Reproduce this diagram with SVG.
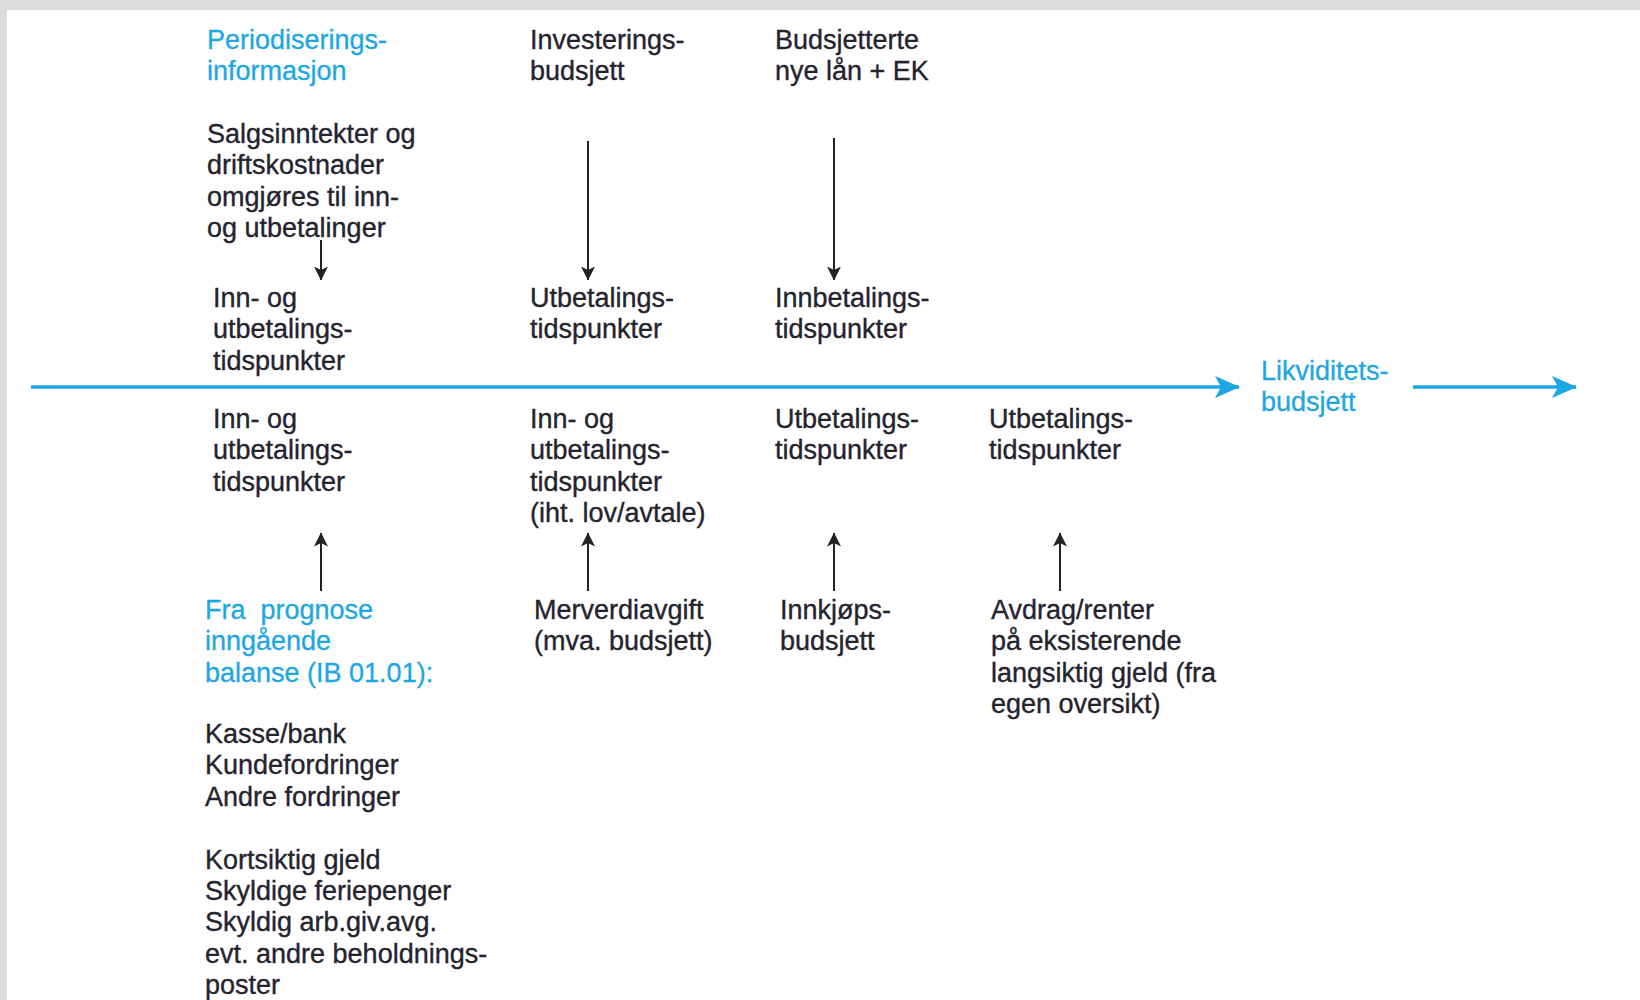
<svg xmlns="http://www.w3.org/2000/svg" width="1640" height="1000" viewBox="0 0 1640 1000">
<defs>
<style>
.t{font-family:"Liberation Sans",Arial,sans-serif;font-size:27px;fill:#25232e;stroke:#25232e;stroke-width:0.35}
.b{font-family:"Liberation Sans",Arial,sans-serif;font-size:27px;fill:#1ca7e4;stroke:#1ca7e4;stroke-width:0.3}
.k{stroke:#222;stroke-width:2;fill:none}
.bl{stroke:#1ca7e4;stroke-width:3.5;fill:none}
</style>
<marker id="ah" viewBox="0 0 14 16" refX="13.5" refY="8" markerWidth="14" markerHeight="16" markerUnits="userSpaceOnUse" orient="auto">
<path d="M0,1 L14,8 L0,15 L3.5,8 z" fill="#222"/>
</marker>
<marker id="bh" viewBox="0 0 25 22" refX="24" refY="11" markerWidth="25" markerHeight="22" markerUnits="userSpaceOnUse" orient="auto">
<path d="M0,0 L25,11 L0,22 L6,11 z" fill="#1ca7e4"/>
</marker>
</defs>
<rect x="0" y="0" width="1640" height="1000" fill="#dcdcdc"/>
<rect x="7" y="10" width="1633" height="990" fill="#ffffff"/>

<g id="connectors">
<line class="bl" x1="31" y1="387" x2="1239" y2="387" marker-end="url(#bh)"/>
<line class="bl" x1="1413" y1="387" x2="1576" y2="387" marker-end="url(#bh)"/>
<line class="k" x1="321" y1="240" x2="321" y2="280" marker-end="url(#ah)"/>
<line class="k" x1="588" y1="141" x2="588" y2="280" marker-end="url(#ah)"/>
<line class="k" x1="834" y1="138" x2="834" y2="280" marker-end="url(#ah)"/>
<line class="k" x1="321" y1="591" x2="321" y2="533" marker-end="url(#ah)"/>
<line class="k" x1="588" y1="591" x2="588" y2="533" marker-end="url(#ah)"/>
<line class="k" x1="834" y1="591" x2="834" y2="533" marker-end="url(#ah)"/>
<line class="k" x1="1060" y1="591" x2="1060" y2="533" marker-end="url(#ah)"/>
</g>

<g id="periodisering">
<text class="b" x="207" y="49">Periodiserings-</text>
<text class="b" x="207" y="80">informasjon</text>
</g>
<g id="investeringsbudsjett">
<text class="t" x="530" y="49">Investerings-</text>
<text class="t" x="530" y="80">budsjett</text>
</g>
<g id="nye-laan">
<text class="t" x="775" y="49">Budsjetterte</text>
<text class="t" x="775" y="80">nye lån + EK</text>
</g>
<g id="salgsinntekter">
<text class="t" x="207" y="143">Salgsinntekter og</text>
<text class="t" x="207" y="174.4">driftskostnader</text>
<text class="t" x="207" y="205.8">omgjøres til inn-</text>
<text class="t" x="207" y="237.2">og utbetalinger</text>
</g>
<g id="inn-ut-top">
<text class="t" x="213" y="307">Inn- og</text>
<text class="t" x="213" y="338.4">utbetalings-</text>
<text class="t" x="213" y="369.8">tidspunkter</text>
</g>
<g id="utbetaling-top">
<text class="t" x="530" y="307">Utbetalings-</text>
<text class="t" x="530" y="338.4">tidspunkter</text>
</g>
<g id="innbetaling-top">
<text class="t" x="775" y="307">Innbetalings-</text>
<text class="t" x="775" y="338.4">tidspunkter</text>
</g>
<g id="likviditetsbudsjett">
<text class="b" x="1261" y="380">Likviditets-</text>
<text class="b" x="1261" y="411.4">budsjett</text>
</g>
<g id="inn-ut-bottom1">
<text class="t" x="213" y="428">Inn- og</text>
<text class="t" x="213" y="459.4">utbetalings-</text>
<text class="t" x="213" y="490.8">tidspunkter</text>
</g>
<g id="inn-ut-bottom2">
<text class="t" x="530" y="428">Inn- og</text>
<text class="t" x="530" y="459.4">utbetalings-</text>
<text class="t" x="530" y="490.8">tidspunkter</text>
<text class="t" x="530" y="522.2">(iht. lov/avtale)</text>
</g>
<g id="utbetaling-bottom1">
<text class="t" x="775" y="428">Utbetalings-</text>
<text class="t" x="775" y="459.4">tidspunkter</text>
</g>
<g id="utbetaling-bottom2">
<text class="t" x="989" y="428">Utbetalings-</text>
<text class="t" x="989" y="459.4">tidspunkter</text>
</g>
<g id="prognose">
<text class="b" x="205" y="619" xml:space="preserve">Fra  prognose</text>
<text class="b" x="205" y="650.4">inngående</text>
<text class="b" x="205" y="681.8">balanse (IB 01.01):</text>
</g>
<g id="merverdiavgift">
<text class="t" x="534" y="619">Merverdiavgift</text>
<text class="t" x="534" y="650.4">(mva. budsjett)</text>
</g>
<g id="innkjop">
<text class="t" x="780" y="619">Innkjøps-</text>
<text class="t" x="780" y="650.4">budsjett</text>
</g>
<g id="avdrag">
<text class="t" x="991" y="619">Avdrag/renter</text>
<text class="t" x="991" y="650.4">på eksisterende</text>
<text class="t" x="991" y="681.8">langsiktig gjeld (fra</text>
<text class="t" x="991" y="713.2">egen oversikt)</text>
</g>
<g id="balanseposter">
<text class="t" x="205" y="743">Kasse/bank</text>
<text class="t" x="205" y="774.4">Kundefordringer</text>
<text class="t" x="205" y="805.8">Andre fordringer</text>
<text class="t" x="205" y="868.6">Kortsiktig gjeld</text>
<text class="t" x="205" y="900">Skyldige feriepenger</text>
<text class="t" x="205" y="931.4">Skyldig arb.giv.avg.</text>
<text class="t" x="205" y="962.8">evt. andre beholdnings-</text>
<text class="t" x="205" y="994.2">poster</text>
</g>
</svg>
